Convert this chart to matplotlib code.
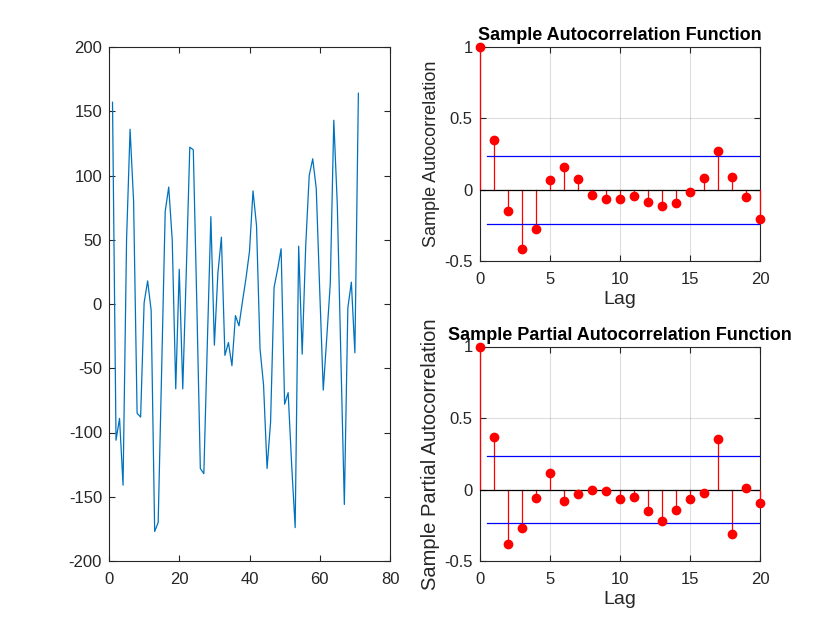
import numpy as np
import matplotlib
matplotlib.use("Agg")
import matplotlib.pyplot as plt
from matplotlib.ticker import FuncFormatter

plt.rcParams['font.family'] = ['Liberation Sans', 'DejaVu Sans']

# ---- data ----
series = [157, -106, -89, -141, 50, 136, 80, -85, -88, 1,
          18, -5, -177, -170, -50, 72, 91, 50, -66, 27,
          -66, 25, 122, 120, 0, -128, -132, -30, 68, -32,
          24, 52, -40, -30, -48, -9, -17, 2, 20, 41,
          88, 61, -35, -63, -128, -92, 13, 27, 43, -78,
          -69, -125, -174, 45, -39, 45, 100, 113, 90, 10,
          -67, -26, 16, 143, 77, -40, -156, -3, 17, -38,
          164]

lags = list(range(21))
acf_vals = [1.0, 0.348, -0.149, -0.413, -0.275, 0.070, 0.159, 0.074, -0.034, -0.066,
            -0.066, -0.043, -0.085, -0.113, -0.092, -0.015, 0.079, 0.271, 0.086, -0.048,
            -0.205]
pacf_vals = [1.0, 0.369, -0.383, -0.266, -0.056, 0.117, -0.082, -0.030, -0.002, -0.009,
             -0.065, -0.054, -0.150, -0.220, -0.143, -0.063, -0.023, 0.350, -0.308, 0.007,
             -0.091]
conf_bound = 0.2374

axis_col = (0.15, 0.15, 0.15)


def style(ax):
    ax.tick_params(direction='in', top=True, right=True, length=4, width=0.8,
                   colors=axis_col, labelcolor=axis_col, labelsize=12)
    ax.tick_params(axis='x', pad=8)
    ax.tick_params(axis='y', pad=5)
    for s in ax.spines.values():
        s.set_color(axis_col)
        s.set_linewidth(0.8)


def fmt(v, p):
    s = ('%g' % v)
    return s.replace('\u2212', '-')


fig = plt.figure(figsize=(8.4, 6.3), dpi=100)
fig.patch.set_facecolor('white')

# left: time series
ax0 = fig.add_axes([109 / 840, 69 / 630, 281 / 840, 514 / 630])
x = np.arange(1, len(series) + 1)
ax0.plot(x, series, color='#0072BD', lw=0.9)
ax0.set_xlim(0, 80)
ax0.set_ylim(-200, 200)
ax0.set_xticks([0, 20, 40, 60, 80])
ax0.set_yticks(np.arange(-200, 201, 50))
ax0.yaxis.set_major_formatter(FuncFormatter(fmt))
style(ax0)


def corr_plot(ax, vals, title, ylabel, ylsize):
    ax.grid(True, color=(0.15, 0.15, 0.15), alpha=0.15, lw=0.8)
    ax.set_axisbelow(True)
    for l, v in zip(lags, vals):
        ax.plot([l, l], [0, v], color='red', lw=0.9, clip_on=False, zorder=3)
    ax.plot(lags, vals, 'o', color='red', ms=6, clip_on=False, zorder=4)
    ax.plot([0, 20], [0, 0], color='black', lw=0.9, zorder=3.5)
    ax.plot([0.5, 20], [conf_bound, conf_bound], color='blue', lw=0.9, zorder=3)
    ax.plot([0.5, 20], [-conf_bound, -conf_bound], color='blue', lw=0.9, zorder=3)
    ax.set_xlim(0, 20)
    ax.set_ylim(-0.5, 1)
    ax.set_xticks([0, 5, 10, 15, 20])
    ax.set_yticks([-0.5, 0, 0.5, 1])
    ax.yaxis.set_major_formatter(FuncFormatter(fmt))
    style(ax)
    ax.set_title(title, fontsize=13, fontweight='bold', pad=5)
    ax.set_xlabel('Lag', fontsize=14, labelpad=3, color=axis_col)
    ax.set_ylabel(ylabel, fontsize=ylsize, labelpad=3, color=axis_col)


ax1 = fig.add_axes([479.5 / 840, 369 / 630, 281 / 840, 214 / 630])
corr_plot(ax1, acf_vals, 'Sample Autocorrelation Function', 'Sample Autocorrelation', 13)

ax2 = fig.add_axes([479.5 / 840, 69 / 630, 281 / 840, 214.5 / 630])
corr_plot(ax2, pacf_vals, 'Sample Partial Autocorrelation Function',
          'Sample Partial Autocorrelation', 14.5)

fig.savefig('out.png', dpi=100, facecolor='white')
